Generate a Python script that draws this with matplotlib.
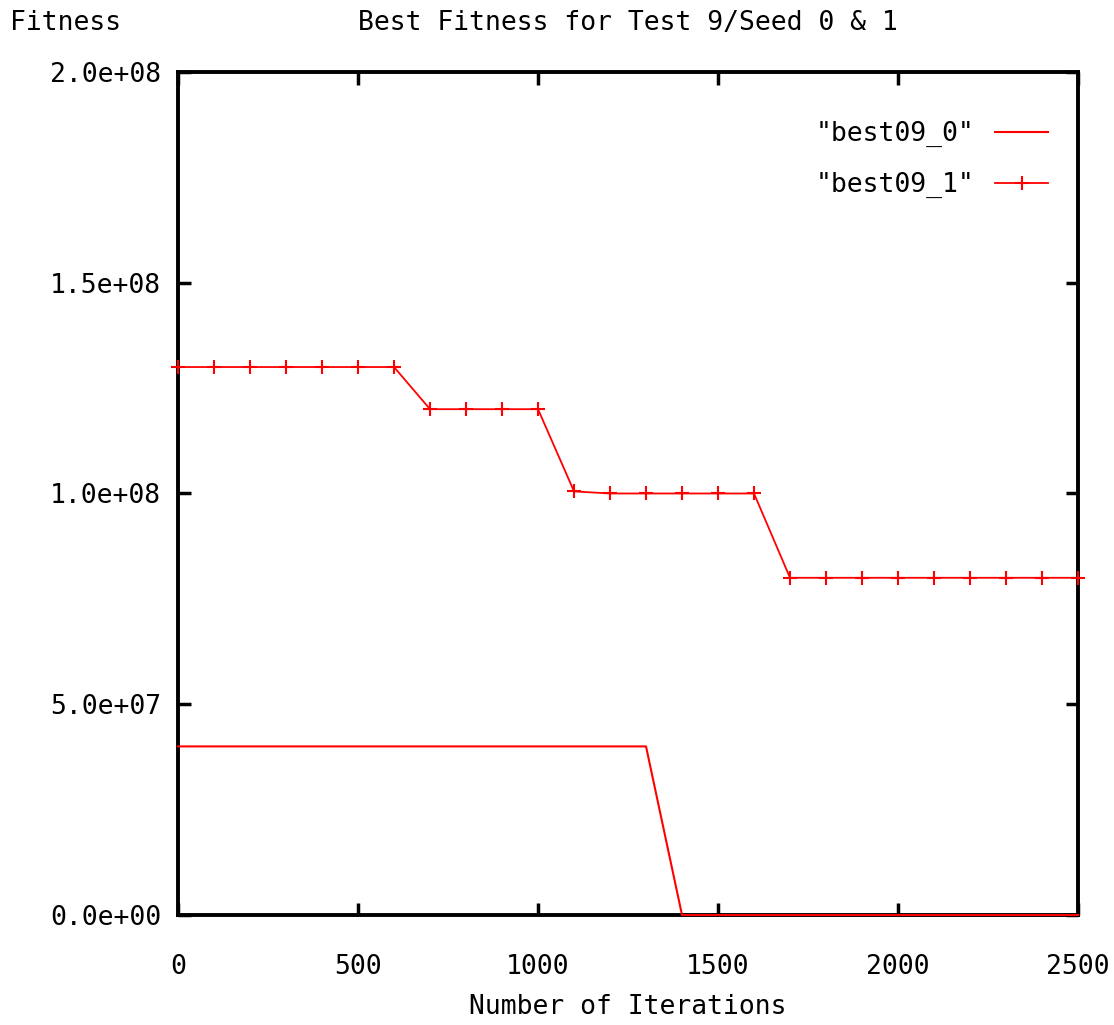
import numpy as np
import matplotlib
matplotlib.use("Agg")
import matplotlib.pyplot as plt
from matplotlib.ticker import FuncFormatter, MultipleLocator

iterations = list(range(0, 2600, 100))

# best09_0: flat, then drops to zero
best09_0 = [4.0e7] * 14 + [0.0] * 12

# best09_1: stepwise decline
best09_1 = ([1.3e8] * 7 + [1.2e8] * 4 + [1.005e8] + [1.0e8] * 5 + [8.0e7] * 9)


def main():
    plt.rcParams["font.family"] = ["DejaVu Sans Mono"]
    fig = plt.figure(figsize=(11.14, 10.25), dpi=100)
    ax = fig.add_axes([0.1598, 0.1073, 0.8079, 0.8225])

    red = "#ff0000"
    ax.plot(iterations, best09_0, color=red, lw=1.5, label='"best09_0"',
            clip_on=False, zorder=4)
    ax.plot(iterations, best09_1, color=red, lw=1.3, marker="+",
            markersize=10, markeredgewidth=1.5, label='"best09_1"',
            clip_on=False, zorder=4)

    ax.set_xlim(0, 2500)
    ax.set_ylim(0, 2.0e8)
    ax.xaxis.set_major_locator(MultipleLocator(500))
    ax.yaxis.set_major_locator(MultipleLocator(5.0e7))
    ax.yaxis.set_major_formatter(FuncFormatter(lambda v, p: f"{v:.1e}"))

    ax.tick_params(direction="in", length=9, width=2.5, top=True, right=True,
                   labelsize=19, pad=12)
    ax.tick_params(axis="x", pad=28)
    for sp in ax.spines.values():
        sp.set_linewidth(2.8)

    ax.set_xlabel("Number of Iterations", fontsize=19, labelpad=10)
    fig.text(0.009, 0.978, "Fitness", fontsize=19, ha="left", va="center")
    fig.text(0.564, 0.978, "Best Fitness for Test 9/Seed 0 & 1", fontsize=19,
             ha="center", va="center")

    ax.legend(loc="upper right", bbox_to_anchor=(0.993, 0.97), frameon=False,
              markerfirst=False, fontsize=19, handlelength=2.0,
              labelspacing=0.95, handletextpad=0.8)

    fig.savefig("out.png", dpi=100)


if __name__ == "__main__":
    main()
